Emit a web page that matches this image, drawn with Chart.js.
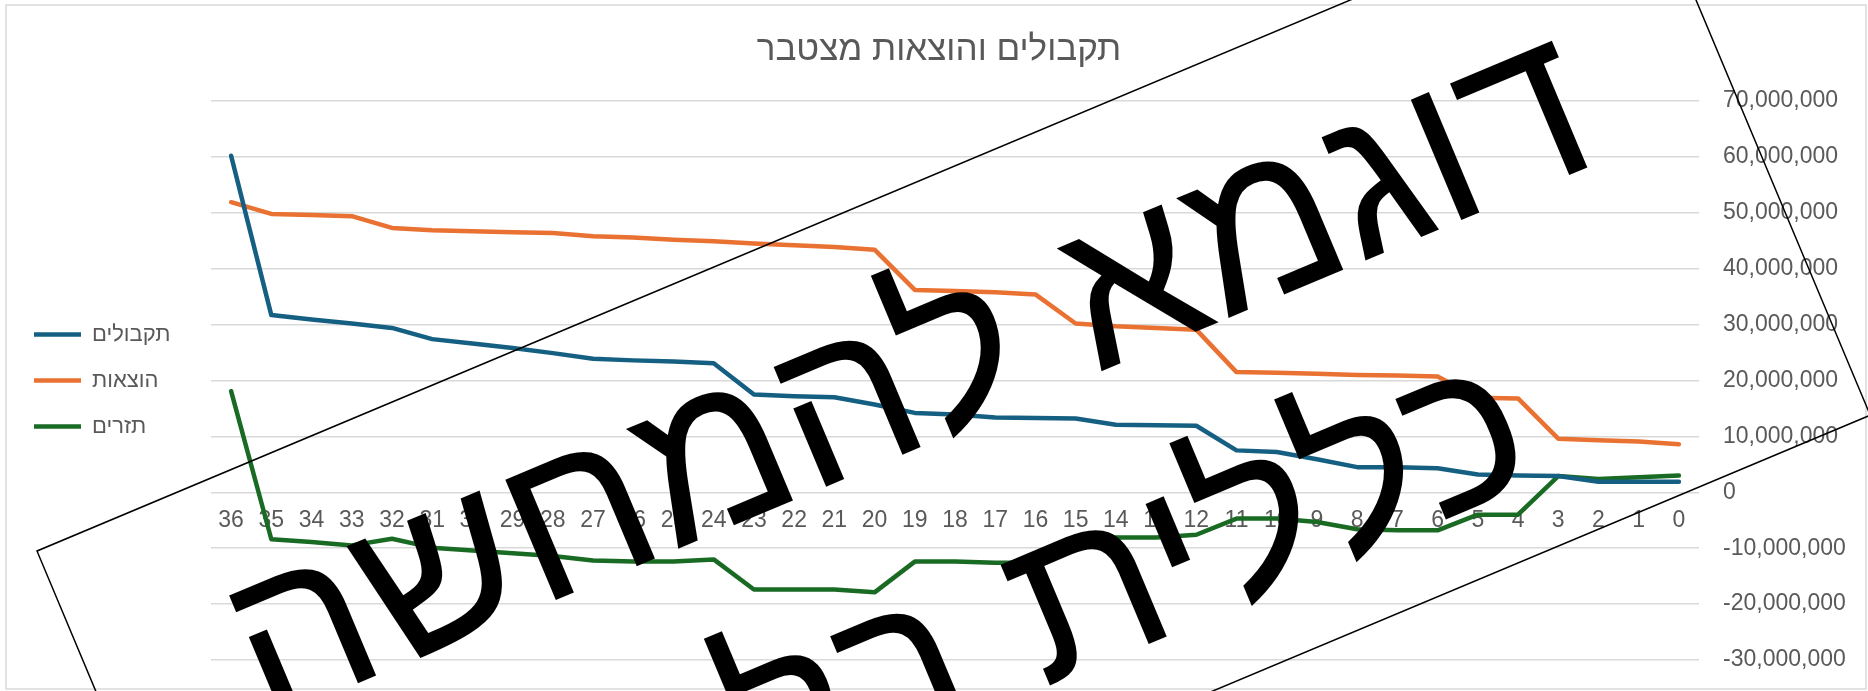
<!DOCTYPE html>
<html lang="he">
<head>
<meta charset="utf-8">
<title>תקבולים והוצאות מצטבר</title>
<script src="https://cdn.jsdelivr.net/npm/chart.js@4.4.1/dist/chart.umd.min.js"></script>
<style>
    html, body { margin: 0; padding: 0; background: #ffffff; }
    #wrap { position: relative; width: 1868px; height: 691px; }
</style>
</head>
<body>
<div id="wrap"><canvas id="cashChart"></canvas></div>
<script>
// categories, left to right as they appear on the axis
const periods = ['36', '35', '34', '33', '32', '31', '30', '29', '28', '27', '26', '25', '24',
    '23', '22', '21', '20', '19', '18', '17', '16', '15', '14', '13', '12',
    '11', '10', '9', '8', '7', '6', '5', '4', '3', '2', '1', '0'];

// values in millions
const receipts = [60.2, 31.7, 30.9, 30.2, 29.4, 27.4, 26.6, 25.8, 24.9, 23.9, 23.6, 23.4, 23.1,
    17.5, 17.2, 17.0, 15.7, 14.2, 13.9, 13.4, 13.3, 13.2, 12.1, 12.0, 11.9,
    7.5, 7.2, 5.9, 4.5, 4.5, 4.3, 3.2, 3.0, 2.9, 1.9, 1.9, 1.9];

const expenses = [51.9, 49.8, 49.6, 49.4, 47.3, 46.9, 46.7, 46.5, 46.4, 45.8, 45.6, 45.2, 44.9,
    44.5, 44.2, 43.9, 43.4, 36.2, 36.0, 35.8, 35.4, 30.2, 29.7, 29.4, 29.1,
    21.5, 21.4, 21.2, 21.0, 20.9, 20.7, 16.9, 16.8, 9.6, 9.3, 9.1, 8.6];

const flows = [18.1, -8.4, -8.9, -9.5, -8.3, -9.9, -10.4, -10.9, -11.4, -12.2, -12.4, -12.4, -12.0,
    -17.4, -17.4, -17.4, -17.9, -12.4, -12.4, -12.6, -12.6, -7.9, -8.1, -8.1, -7.6,
    -4.7, -4.7, -5.3, -6.6, -6.8, -6.8, -4.0, -4.0, 2.9, 2.4, 2.7, 3.0];

const seriesNames = ['תקבולים', 'הוצאות', 'תזרים'];
const seriesColors = ['#156082', '#E97132', '#196B24'];

const yTicksMin = -30000000;
const yTicksMax = 70000000;
const yTicksStep = 10000000;

const chartTitle = 'תקבולים והוצאות מצטבר';
const watermarkLines = ['דוגמא להמחשה', 'כללית בלבד'];

const textGrey = '#595959';
const gridGrey = '#D9D9D9';
const baseFont = '"Liberation Sans", Arial, sans-serif';

const M = 1000000;
const toUnits = arr => arr.map(v => v * M);

// legend column has a fixed width, like the excel chart
const legendWidthPlugin = {
    id: 'legendWidth',
    afterInit(chart) {
        const legend = chart.legend;
        const fit = legend.fit;
        legend.fit = function () {
            fit.call(this);
            this.width = 201;
        };
    }
};

// chart frame
const framePlugin = {
    id: 'frame',
    beforeDraw(chart) {
        const ctx = chart.ctx;
        ctx.save();
        ctx.strokeStyle = gridGrey;
        ctx.lineWidth = 1.5;
        ctx.strokeRect(6, 5, 1860, 684);
        ctx.restore();
    }
};

// the rotated "sample only" stamp on top of the chart
const watermarkPlugin = {
    id: 'watermark',
    afterDraw(chart) {
        const ctx = chart.ctx;
        ctx.save();
        ctx.translate(37, 551);
        ctx.rotate(-22.76 * Math.PI / 180);
        ctx.strokeStyle = '#000000';
        ctx.lineWidth = 1.5;
        ctx.strokeRect(0, 0, 1743, 584);
        ctx.fillStyle = '#000000';
        ctx.font = '218px ' + baseFont;
        ctx.textAlign = 'center';
        ctx.direction = 'rtl';
        ctx.fillText(watermarkLines[0], 872, 246);
        ctx.fillText(watermarkLines[1], 872, 516);
        ctx.restore();
    }
};

document.addEventListener('DOMContentLoaded', () => {
    const ctx = document.getElementById('cashChart').getContext('2d');

    const datasets = [receipts, expenses, flows].map((values, i) => ({
        label: seriesNames[i],
        data: toUnits(values),
        borderColor: seriesColors[i],
        backgroundColor: seriesColors[i],
        borderWidth: 4.5,
        borderCapStyle: 'round',
        borderJoinStyle: 'round',
        pointRadius: 0,
        pointHoverRadius: 0,
        tension: 0,
        fill: false
    }));

    new Chart(ctx, {
        type: 'line',
        data: {
            labels: periods,
            datasets: datasets
        },
        options: {
            responsive: true,
            maintainAspectRatio: false,
            animation: false,
            layout: {
                padding: { left: 10, right: 0, top: 0, bottom: 31 }
            },
            plugins: {
                title: {
                    display: true,
                    text: chartTitle,
                    color: textGrey,
                    font: { family: baseFont, size: 35, weight: 'normal' },
                    padding: { top: 29, bottom: 30 }
                },
                legend: {
                    position: 'left',
                    fullSize: false,
                    labels: {
                        usePointStyle: true,
                        pointStyle: 'line',
                        pointStyleWidth: 47,
                        padding: 24,
                        color: textGrey,
                        font: { family: baseFont, size: 22 }
                    }
                },
                tooltip: { enabled: false }
            },
            scales: {
                x: {
                    position: { y: 0 },
                    offset: true,
                    grid: { display: false, drawTicks: false },
                    border: { display: false },
                    ticks: {
                        autoSkip: false,
                        maxRotation: 0,
                        minRotation: 0,
                        padding: 15,
                        color: textGrey,
                        font: { family: baseFont, size: 23 }
                    }
                },
                y: {
                    position: 'right',
                    min: yTicksMin,
                    max: yTicksMax,
                    afterFit: function (scale) {
                        scale.width = 169;
                    },
                    grid: {
                        color: gridGrey,
                        lineWidth: 1.5,
                        drawTicks: true,
                        tickLength: 24,
                        tickColor: 'rgba(0,0,0,0)'
                    },
                    border: { display: false },
                    ticks: {
                        stepSize: yTicksStep,
                        crossAlign: 'near',
                        padding: 0,
                        color: textGrey,
                        font: { family: baseFont, size: 23 },
                        callback: function (value) {
                            return value.toLocaleString('en-US');
                        }
                    }
                }
            }
        },
        plugins: [legendWidthPlugin, framePlugin, watermarkPlugin]
    });
});
</script>
</body>
</html>
